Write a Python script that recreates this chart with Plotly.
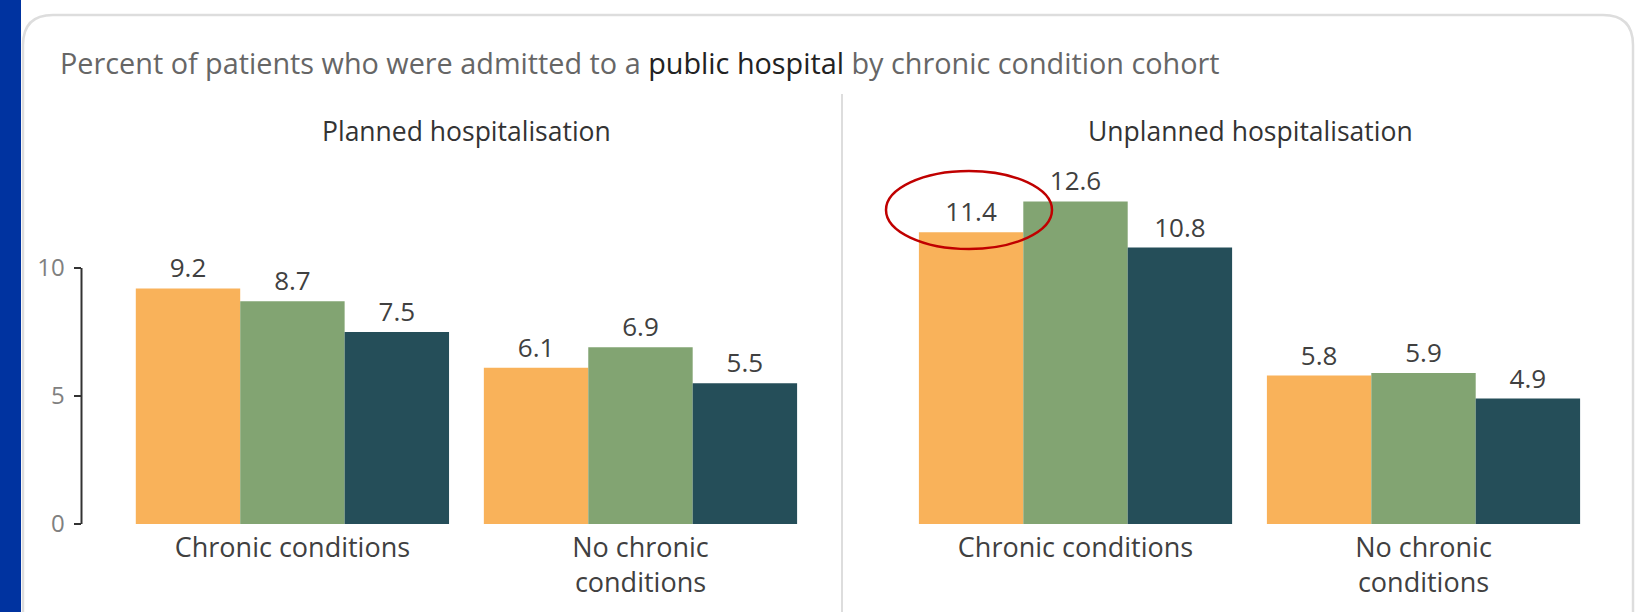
import plotly.graph_objects as go

categories = ["Chronic conditions", "No chronic<br>conditions"]
panels = ["Planned hospitalisation", "Unplanned hospitalisation"]
series_names = ["Series 1", "Series 2", "Series 3"]
colors = ["#F9B25A", "#82A472", "#254E59"]
planned = [[9.2, 6.1], [8.7, 6.9], [7.5, 5.5]]
unplanned = [[11.4, 5.8], [12.6, 5.9], [10.8, 4.9]]
y_ticks = [0, 5, 10]

W, H = 1639, 612
FONT = "Open Sans"

fig = go.Figure()
for vals, xa, ya in [(planned, "x", "y"), (unplanned, "x2", "y2")]:
    for name, col, v in zip(series_names, colors, vals):
        fig.add_trace(go.Bar(
            x=categories, y=v, name=name, marker=dict(color=col, line=dict(width=0)),
            xaxis=xa, yaxis=ya, text=v, texttemplate="%{y}", textposition="outside",
            textfont=dict(size=26, color="#404040", family=FONT), cliponaxis=False,
            showlegend=False, hoverinfo="skip"))

def px(x):
    return x / W

def py(y):
    return 1 - y / H

ydom = [py(524), py(150)]
yrange = [0, (524 - 150) / 25.6]

fig.update_layout(
    width=W, height=H, autosize=False,
    margin=dict(l=0, r=0, t=0, b=0, autoexpand=False),
    paper_bgcolor="white", plot_bgcolor="rgba(0,0,0,0)",
    barmode="group", bargap=0.1, bargroupgap=0,
    font=dict(family=FONT, color="#404040"),
    xaxis=dict(domain=[px(81.5), px(814.5)], range=[-0.606, 1.5], showline=False, showgrid=False,
               zeroline=False, ticks="", ticklabelstandoff=5, automargin=False,
               tickfont=dict(size=27, color="#404040"), anchor="y"),
    xaxis2=dict(domain=[px(901.5), px(1597.5)], range=[-0.5, 1.5], showline=False, showgrid=False,
                zeroline=False, ticks="", ticklabelstandoff=5, automargin=False,
                tickfont=dict(size=27, color="#404040"), anchor="y2"),
    yaxis=dict(domain=ydom, range=yrange, showgrid=False, zeroline=False, showline=False,
               tickvals=y_ticks, ticks="outside", ticklen=7, tickwidth=2, tickcolor="#333",
               ticklabelstandoff=4, automargin=False,
               tickfont=dict(size=24, color="#808080"), anchor="x"),
    yaxis2=dict(domain=ydom, range=yrange, showgrid=False, zeroline=False, showline=False,
                showticklabels=False, automargin=False, anchor="x2"),
)

shapes = [
    dict(type="rect", xref="paper", yref="paper", x0=0, x1=px(21), y0=-0.1, y1=1,
         fillcolor="#0033A0", line=dict(width=0), layer="below"),
    dict(type="path", xref="paper", yref="paper",
         path=(f"M {px(23)},{py(640)} L {px(23)},{py(45)} Q {px(23)},{py(15)} {px(53)},{py(15)} "
               f"L {px(1603)},{py(15)} Q {px(1633)},{py(15)} {px(1633)},{py(45)} L {px(1633)},{py(640)}"),
         line=dict(color="#DDDDDD", width=2.5), layer="below"),
    dict(type="line", xref="paper", yref="paper", x0=px(842), x1=px(842), y0=py(640), y1=py(94),
         line=dict(color="#DDDDDD", width=2), layer="below"),
    dict(type="line", xref="paper", yref="y", x0=px(81.5), x1=px(81.5), y0=0, y1=10,
         line=dict(color="#333", width=2)),
    dict(type="circle", xref="paper", yref="paper", x0=px(886), x1=px(1052), y0=py(249), y1=py(171),
         line=dict(color="#C00000", width=2.5)),
]
fig.update_layout(shapes=shapes)

annotations = [
    dict(xref="paper", yref="paper", x=px(58), y=py(63), xanchor="left", yanchor="middle",
         showarrow=False, font=dict(size=28.8, color="#666", family=FONT),
         text="Percent of patients who were admitted to a <span style='color:#222'>public hospital</span> by chronic condition cohort"),
    dict(xref="paper", yref="paper", x=px(467), y=py(131), xanchor="center", yanchor="middle",
         showarrow=False, font=dict(size=26.5, color="#333", family=FONT), text=panels[0]),
    dict(xref="paper", yref="paper", x=px(1250), y=py(131), xanchor="center", yanchor="middle",
         showarrow=False, font=dict(size=26.5, color="#333", family=FONT), text=panels[1]),
]
fig.update_layout(annotations=annotations)

fig.write_html("out.html", config={"displayModeBar": False, "responsive": False},
               post_script="document.body.style.margin='0';document.body.style.overflow='hidden';")
